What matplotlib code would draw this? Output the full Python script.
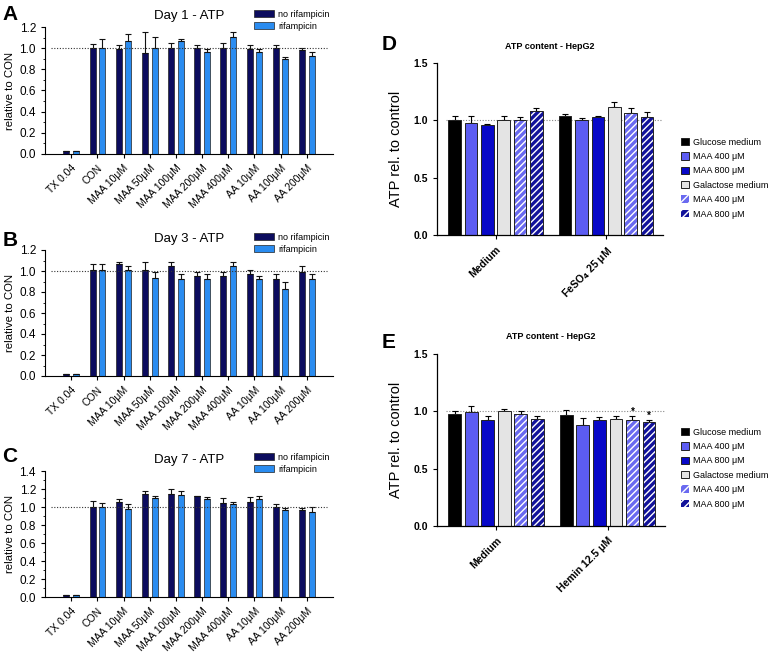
import numpy as np
import matplotlib
matplotlib.use("Agg")
import matplotlib.pyplot as plt
from matplotlib.patches import Patch
from matplotlib.ticker import MultipleLocator

plt.rcParams['font.family'] = ['Liberation Sans', 'DejaVu Sans']

# ---- panels A-C data ----
cats = ["TX 0.04", "CON", "MAA 10μM", "MAA 50μM", "MAA 100μM", "MAA 200μM",
        "MAA 400μM", "AA 10μM", "AA 100μM", "AA 200μM"]

day1_norif = [0.03, 1.00, 0.99, 0.95, 1.00, 1.00, 1.00, 0.99, 1.00, 0.985]
day1_norif_err = [0.0, 0.04, 0.04, 0.20, 0.05, 0.03, 0.05, 0.04, 0.03, 0.015]
day1_rif = [0.03, 1.00, 1.07, 1.00, 1.07, 0.96, 1.11, 0.96, 0.90, 0.925]
day1_rif_err = [0.0, 0.09, 0.06, 0.11, 0.02, 0.03, 0.04, 0.03, 0.02, 0.035]

day3_norif = [0.02, 1.01, 1.07, 1.01, 1.05, 0.955, 0.955, 0.975, 0.92, 0.99]
day3_norif_err = [0.0, 0.06, 0.02, 0.08, 0.04, 0.035, 0.035, 0.035, 0.05, 0.06]
day3_rif = [0.02, 1.01, 1.01, 0.93, 0.92, 0.92, 1.05, 0.92, 0.83, 0.92]
day3_rif_err = [0.0, 0.06, 0.04, 0.06, 0.05, 0.05, 0.04, 0.035, 0.07, 0.05]

day7_norif = [0.02, 1.00, 1.06, 1.15, 1.15, 1.12, 1.05, 1.06, 1.00, 0.97]
day7_norif_err = [0.0, 0.07, 0.03, 0.03, 0.05, 0.005, 0.05, 0.05, 0.03, 0.02]
day7_rif = [0.02, 1.00, 0.98, 1.10, 1.13, 1.09, 1.03, 1.09, 0.97, 0.95]
day7_rif_err = [0.0, 0.05, 0.05, 0.02, 0.05, 0.02, 0.03, 0.03, 0.02, 0.05]

# ---- panels D-E data ----
groups_d = ["Medium", r"FeSO$_\mathbf{4}$ 25 μM"]
groups_e = ["Medium", "Hemin 12.5 μM"]
series_names = ["Glucose medium", "MAA 400 μM", "MAA 800 μM",
                "Galactose medium", "MAA 400 μM", "MAA 800 μM"]
d_vals = [[1.00, 0.98, 0.955, 1.00, 1.005, 1.085],
          [1.04, 1.00, 1.03, 1.12, 1.06, 1.03]]
d_errs = [[0.04, 0.06, 0.01, 0.04, 0.025, 0.025],
          [0.015, 0.02, 0.005, 0.04, 0.05, 0.045]]
e_vals = [[0.977, 0.994, 0.927, 1.006, 0.977, 0.93],
          [0.965, 0.884, 0.927, 0.936, 0.924, 0.904]]
e_errs = [[0.026, 0.05, 0.033, 0.017, 0.026, 0.026],
          [0.044, 0.061, 0.023, 0.024, 0.032, 0.02]]
e_stars = [(1, 4), (1, 5)]

dark = "#0c0c5e"
light = "#2a8cf0"
face_d = ["#000000", "#5c5cf2", "#0808c8", "#e4e4e4", "#6a6af0", "#12129a"]
hatched = [False, False, False, False, True, True]

fig = plt.figure(figsize=(7.7, 6.58), dpi=100)
W, H = 770.0, 658.0


def axrect(l, t, r, b):
    return [l / W, 1 - b / H, (r - l) / W, (b - t) / H]


def day_panel(rect, title, vals1, err1, vals2, err2, ymax, leg_top):
    ax = fig.add_axes(rect)
    x = np.arange(len(cats))
    w = 0.23
    ax.bar(x - 0.185, vals1, w, color=dark, edgecolor="#222222", linewidth=0.5,
           yerr=[np.zeros(len(x)), err1], capsize=2.5,
           error_kw=dict(elinewidth=0.8, capthick=0.8, ecolor="#111111"))
    ax.bar(x + 0.185, vals2, w, color=light, edgecolor="#222222", linewidth=0.5,
           yerr=[np.zeros(len(x)), err2], capsize=2.5,
           error_kw=dict(elinewidth=0.8, capthick=0.8, ecolor="#111111"))
    ax.axhline(1.0, xmin=0.02, xmax=0.98, color="#333333", ls=(0, (1, 1.5)), lw=0.8)
    ax.set_xlim(-1.0, 10.0)
    ax.set_ylim(0, ymax)
    ax.yaxis.set_major_locator(MultipleLocator(0.2))
    ax.yaxis.set_minor_locator(MultipleLocator(0.1))
    ax.set_xticks(x)
    ax.set_xticklabels(cats, rotation=45, ha="right", rotation_mode="anchor", fontsize=7.5)
    ax.tick_params(axis="y", labelsize=8.5, length=3, width=0.8)
    ax.tick_params(axis="y", which="minor", length=1.5, width=0.6)
    ax.tick_params(axis="x", length=3, width=0.8)
    for s in ["top", "right"]:
        ax.spines[s].set_visible(False)
    for s in ["left", "bottom"]:
        ax.spines[s].set_linewidth(0.8)
    ax.set_ylabel("relative to CON", fontsize=8.2)
    ax.yaxis.set_label_coords(-0.105, 0.5)
    ax.set_title(title, fontsize=9.5, pad=6)
    handles = [Patch(facecolor=dark, edgecolor="#222222", lw=0.5),
               Patch(facecolor=light, edgecolor="#222222", lw=0.5)]
    ax.legend(handles, ["no rifampicin", "rifampicin"], loc="upper left",
              bbox_to_anchor=(250 / W, 1 - leg_top / H), bbox_transform=fig.transFigure,
              frameon=False, fontsize=6.5, handlelength=2.3, handleheight=0.9,
              labelspacing=0.35, handletextpad=0.4, borderaxespad=0)
    return ax


day_panel(axrect(45, 27, 333, 154), "Day 1 - ATP", day1_norif, day1_norif_err,
          day1_rif, day1_rif_err, 1.2, 6)
day_panel(axrect(45, 250, 333, 376), "Day 3 - ATP", day3_norif, day3_norif_err,
          day3_rif, day3_rif_err, 1.2, 229)
day_panel(axrect(45, 471, 333, 597), "Day 7 - ATP", day7_norif, day7_norif_err,
          day7_rif, day7_rif_err, 1.4, 449)


def hep_panel(rect, groups, vals, errs, leg_top, title_pad, stars=()):
    ax = fig.add_axes(rect)
    step_gap = 6.75
    w = 0.77
    for g in range(len(groups)):
        for i in range(6):
            xp = g * step_gap + i
            v = vals[g][i]
            e = errs[g][i]
            ax.errorbar(xp, v, yerr=[[0], [e]], fmt="none", ecolor="black",
                        elinewidth=0.8, capsize=2.5, capthick=0.8, zorder=1)
            if hatched[i]:
                ax.bar(xp, v, w, color=face_d[i], edgecolor="white", hatch="/////",
                       linewidth=0, zorder=2)
                ax.bar(xp, v, w, fill=False, edgecolor="#222222", linewidth=0.7, zorder=3)
            else:
                ax.bar(xp, v, w, color=face_d[i], edgecolor="#222222", linewidth=0.7, zorder=2)
    for g, i in stars:
        xp = g * step_gap + i
        ax.text(xp, vals[g][i] + errs[g][i] + 0.04, "*", ha="center", va="center",
                fontsize=7, fontweight="bold")
    ax.axhline(1.0, xmin=0.04, xmax=1.0, color="#888888", ls=(0, (1, 1.5)), lw=0.8, zorder=0)
    ax.set_xlim(-1.07, 12.72)
    ax.set_ylim(0, 1.5)
    ax.set_yticks([0, 0.5, 1.0, 1.5])
    ax.set_yticklabels(["0.0", "0.5", "1.0", "1.5"], fontsize=7.5, fontweight="bold")
    centers = [g * step_gap + 2.5 for g in range(len(groups))]
    ax.set_xticks(centers)
    ax.set_xticklabels(groups, rotation=45, ha="right", rotation_mode="anchor",
                       fontsize=7.5, fontweight="bold")
    ax.tick_params(length=3, width=0.8)
    for s in ["top", "right"]:
        ax.spines[s].set_visible(False)
    for s in ["left", "bottom"]:
        ax.spines[s].set_linewidth(0.9)
    ax.set_ylabel("ATP rel. to control", fontsize=10.5)
    ax.yaxis.set_label_coords(-0.15, 0.5)
    ax.set_title("ATP content - HepG2", fontsize=6.5, fontweight="bold", pad=title_pad)
    handles = []
    for i in range(6):
        if hatched[i]:
            handles.append(Patch(facecolor=face_d[i], edgecolor="white", hatch="////", lw=0))
        else:
            handles.append(Patch(facecolor=face_d[i], edgecolor="#222222", lw=0.7))
    ax.legend(handles, series_names, loc="upper left",
              bbox_to_anchor=(677 / W, 1 - leg_top / H), bbox_transform=fig.transFigure,
              frameon=False, fontsize=6.5, handlelength=0.9, handleheight=0.9,
              labelspacing=0.6, handletextpad=0.45, borderaxespad=0)
    return ax


hep_panel(axrect(437, 63, 663, 235), groups_d, d_vals, d_errs, 134, 10)
hep_panel(axrect(437, 354, 665, 526), groups_e, e_vals, e_errs, 424, 11, e_stars)

for lab, xx, yy in [("A", 10, 14), ("B", 10, 240), ("C", 10, 456),
                    ("D", 389, 45), ("E", 389, 342)]:
    fig.text(xx / W, 1 - yy / H, lab, fontsize=15, fontweight="bold",
             ha="center", va="center")

fig.savefig("out.png", dpi=100)
